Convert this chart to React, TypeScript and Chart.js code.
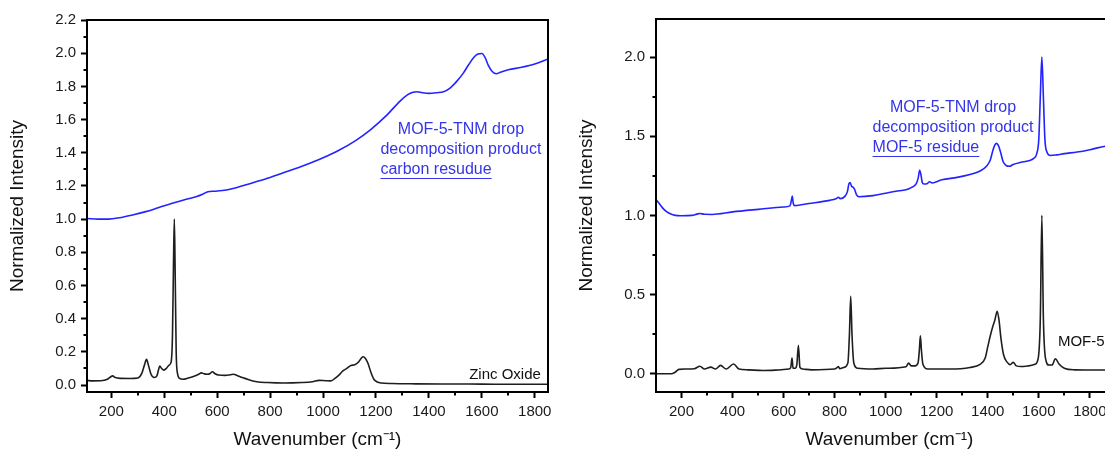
import React, { useEffect, useRef } from 'react';
import { Chart, registerables } from 'chart.js';

Chart.register(...registerables);

const FONT = '"Liberation Sans", Arial, Helvetica, sans-serif';

// ---------- Left panel data: [wavenumber, normalized intensity] ----------
const zincOxide: [number, number][] = [
  [108, 0.028], [130, 0.025], [160, 0.026], [185, 0.035], [198, 0.05], [205, 0.055], [215, 0.045],
  [235, 0.04], [270, 0.039], [300, 0.042], [315, 0.07], [325, 0.12], [333, 0.155], [340, 0.12],
  [350, 0.065], [362, 0.045], [372, 0.055], [378, 0.09], [383, 0.115], [390, 0.1], [398, 0.09],
  [408, 0.1], [418, 0.12], [426, 0.14], [431, 0.3], [435, 0.75], [438, 1.0], [441, 0.7],
  [445, 0.2], [450, 0.07], [458, 0.04], [470, 0.035], [490, 0.042], [515, 0.055], [530, 0.065],
  [540, 0.073], [550, 0.068], [560, 0.065], [572, 0.068], [582, 0.08], [592, 0.068], [605, 0.06],
  [630, 0.058], [650, 0.062], [662, 0.065], [675, 0.058], [695, 0.045], [720, 0.032], [750, 0.02],
  [790, 0.015], [850, 0.012], [920, 0.015], [960, 0.02], [985, 0.028], [1010, 0.026], [1030, 0.025],
  [1045, 0.04], [1060, 0.06], [1075, 0.085], [1090, 0.1], [1105, 0.118], [1120, 0.122], [1135, 0.14],
  [1145, 0.163], [1152, 0.17], [1160, 0.16], [1170, 0.13], [1180, 0.08], [1192, 0.035], [1205, 0.018],
  [1220, 0.012], [1260, 0.009], [1350, 0.007], [1450, 0.006], [1550, 0.006], [1650, 0.005],
  [1750, 0.005], [1850, 0.005],
];

const carbonResidue: [number, number][] = [
  [108, 1.004], [150, 1.0], [190, 1.0], [230, 1.008], [280, 1.025], [330, 1.045], [380, 1.07],
  [430, 1.095], [480, 1.118], [520, 1.135], [545, 1.15], [565, 1.165], [590, 1.168], [620, 1.172],
  [660, 1.184], [720, 1.212], [790, 1.246], [860, 1.285], [930, 1.325], [1000, 1.37], [1060, 1.415],
  [1120, 1.47], [1180, 1.54], [1240, 1.625], [1290, 1.71], [1320, 1.75], [1340, 1.765], [1355, 1.768],
  [1375, 1.762], [1400, 1.758], [1430, 1.762], [1455, 1.768], [1480, 1.79], [1505, 1.83], [1530, 1.88],
  [1550, 1.93], [1570, 1.975], [1585, 1.995], [1600, 1.998], [1612, 1.975], [1625, 1.925],
  [1640, 1.888], [1655, 1.876], [1670, 1.885], [1700, 1.9], [1750, 1.915], [1800, 1.935], [1850, 1.965],
];

// ---------- Right panel data ----------
const mof5: [number, number][] = [
  [100, 0.0], [160, 0.0], [175, 0.01], [190, 0.028], [215, 0.03], [250, 0.032], [272, 0.048],
  [290, 0.03], [315, 0.042], [333, 0.03], [353, 0.053], [375, 0.03], [404, 0.062], [425, 0.03],
  [460, 0.025], [520, 0.021], [580, 0.024], [620, 0.03], [628, 0.04], [633, 0.1], [637, 0.035],
  [645, 0.035], [652, 0.06], [658, 0.18], [664, 0.04], [675, 0.03], [710, 0.025], [800, 0.03],
  [810, 0.04], [815, 0.046], [820, 0.032], [835, 0.04], [852, 0.07], [858, 0.25], [863, 0.49],
  [868, 0.25], [875, 0.07], [890, 0.035], [950, 0.03], [1000, 0.035], [1080, 0.045], [1090, 0.067],
  [1100, 0.05], [1115, 0.05], [1127, 0.07], [1132, 0.15], [1136, 0.24], [1140, 0.15], [1146, 0.06],
  [1165, 0.03], [1250, 0.03], [1330, 0.04], [1370, 0.06], [1390, 0.1], [1400, 0.17], [1410, 0.24],
  [1420, 0.3], [1428, 0.34], [1437, 0.395], [1444, 0.34], [1452, 0.22], [1462, 0.12], [1475, 0.075],
  [1488, 0.058], [1500, 0.072], [1512, 0.05], [1530, 0.046], [1560, 0.05], [1585, 0.06], [1598, 0.1],
  [1606, 0.35], [1612, 1.0], [1618, 0.35], [1626, 0.1], [1640, 0.055], [1652, 0.055], [1665, 0.095],
  [1680, 0.06], [1700, 0.035], [1740, 0.025], [1800, 0.024], [1860, 0.024], [1930, 0.024],
];

const mof5Residue: [number, number][] = [
  [100, 1.1], [115, 1.07], [130, 1.04], [150, 1.015], [175, 1.0], [200, 0.998], [240, 1.0],
  [260, 1.008], [272, 1.012], [290, 1.007], [320, 1.006], [400, 1.022], [500, 1.038], [600, 1.053],
  [625, 1.06], [630, 1.09], [634, 1.122], [638, 1.075], [643, 1.062], [700, 1.075], [780, 1.095],
  [805, 1.105], [815, 1.115], [822, 1.106], [840, 1.12], [850, 1.15], [856, 1.2], [861, 1.208],
  [866, 1.185], [872, 1.178], [878, 1.165], [886, 1.13], [895, 1.118], [950, 1.125], [1000, 1.14],
  [1040, 1.152], [1080, 1.162], [1100, 1.175], [1120, 1.2], [1128, 1.24], [1133, 1.285], [1138, 1.26],
  [1143, 1.21], [1150, 1.198], [1162, 1.2], [1172, 1.212], [1182, 1.205], [1220, 1.225], [1280, 1.24],
  [1330, 1.258], [1370, 1.28], [1395, 1.31], [1410, 1.35], [1420, 1.41], [1428, 1.445], [1434, 1.455],
  [1442, 1.44], [1450, 1.4], [1460, 1.34], [1472, 1.315], [1485, 1.31], [1500, 1.322], [1530, 1.335],
  [1560, 1.345], [1580, 1.36], [1592, 1.39], [1600, 1.48], [1606, 1.75], [1612, 2.0], [1618, 1.75],
  [1624, 1.48], [1632, 1.4], [1645, 1.378], [1670, 1.382], [1700, 1.39], [1750, 1.4], [1800, 1.415],
  [1860, 1.437], [1930, 1.45],
];

// ---------- Ticks ----------
const leftXMajor = [200, 400, 600, 800, 1000, 1200, 1400, 1600, 1800];
const leftXMinor = [300, 500, 700, 900, 1100, 1300, 1500, 1700];
const leftYMajor = [0, 0.2, 0.4, 0.6, 0.8, 1.0, 1.2, 1.4, 1.6, 1.8, 2.0, 2.2];
const leftYMinor = [0.1, 0.3, 0.5, 0.7, 0.9, 1.1, 1.3, 1.5, 1.7, 1.9, 2.1];
const rightXMajor = [200, 400, 600, 800, 1000, 1200, 1400, 1600, 1800];
const rightXMinor = [300, 500, 700, 900, 1100, 1300, 1500, 1700, 1900];
const rightYMajor = [0, 0.5, 1.0, 1.5, 2.0];
const rightYMinor = [0.25, 0.75, 1.25, 1.75];

// ---------- Texts ----------
const xTitle = 'Wavenumber (cm\u207B\u00B9)';
const yTitle = 'Normalized Intensity';
const leftNote = ['MOF-5-TNM drop', 'decomposition product', 'carbon resudue'];
const rightNote = ['MOF-5-TNM drop', 'decomposition product', 'MOF-5 residue'];
const leftLabel = 'Zinc Oxide';
const rightLabel = 'MOF-5';

const BLUE = '#2323ff';
const NOTE_BLUE = '#3535e8';
const BLACK = '#1e1e1e';

type Spec = {
  xMin: number; xMax: number; yMin: number; yMax: number;
  xMajor: number[]; xMinor: number[]; yMajor: number[]; yMinor: number[];
  yAxisWidth: number; xAxisHeight: number;
  padding: { top: number; right: number; left: number; bottom: number };
  yTitlePad: number;
  black: [number, number][]; blue: [number, number][];
  note: string[]; noteX: number; noteY: number;
  label: string; labelX: number; labelY: number; labelAlign: CanvasTextAlign;
};

const leftSpec: Spec = {
  xMin: 108, xMax: 1850, yMin: -0.042, yMax: 2.2,
  xMajor: leftXMajor, xMinor: leftXMinor, yMajor: leftYMajor, yMinor: leftYMinor,
  yAxisWidth: 87, xAxisHeight: 64,
  padding: { top: 20, right: 12, left: 0, bottom: 0 },
  yTitlePad: 6,
  black: zincOxide, blue: carbonResidue,
  note: leftNote, noteX: 1521, noteY: 1.537,
  label: leftLabel, labelX: 1823, labelY: 0.06, labelAlign: 'right',
};

const rightSpec: Spec = {
  xMin: 100, xMax: 1930, yMin: -0.115, yMax: 2.24,
  xMajor: rightXMajor, xMinor: rightXMinor, yMajor: rightYMajor, yMinor: rightYMinor,
  yAxisWidth: 96, xAxisHeight: 64,
  padding: { top: 19, right: 37, left: 0, bottom: 0 },
  yTitlePad: 15,
  black: mof5, blue: mof5Residue,
  note: rightNote, noteX: 1264, noteY: 1.678,
  label: rightLabel, labelX: 1675, labelY: 0.2, labelAlign: 'left',
};

function decorPlugin(spec: Spec) {
  return {
    id: 'panelDecor',
    afterDraw(chart: any) {
      const { ctx, chartArea: a } = chart;
      const xs = chart.scales.x;
      const ys = chart.scales.y;
      ctx.save();
      // frame
      ctx.strokeStyle = '#000';
      ctx.lineWidth = 2;
      ctx.strokeRect(a.left, a.top, a.right - a.left, a.bottom - a.top);
      // minor ticks
      ctx.beginPath();
      spec.xMinor.forEach((v) => {
        const px = Math.round(xs.getPixelForValue(v));
        ctx.moveTo(px, a.bottom);
        ctx.lineTo(px, a.bottom + 3.5);
      });
      spec.yMinor.forEach((v) => {
        const py = Math.round(ys.getPixelForValue(v));
        ctx.moveTo(a.left, py);
        ctx.lineTo(a.left - 3.5, py);
      });
      ctx.stroke();
      // annotation
      ctx.font = `16px ${FONT}`;
      ctx.fillStyle = NOTE_BLUE;
      ctx.textBaseline = 'middle';
      ctx.textAlign = 'center';
      const cx = xs.getPixelForValue(spec.noteX);
      const cy = ys.getPixelForValue(spec.noteY);
      const gap = 20;
      ctx.fillText(spec.note[0], cx, cy);
      ctx.fillText(spec.note[1], cx, cy + gap);
      const w2 = ctx.measureText(spec.note[1]).width;
      const lx = cx - w2 / 2;
      ctx.textAlign = 'left';
      ctx.fillText(spec.note[2], lx, cy + 2 * gap);
      const w3 = ctx.measureText(spec.note[2]).width;
      ctx.strokeStyle = NOTE_BLUE;
      ctx.lineWidth = 1;
      ctx.beginPath();
      ctx.moveTo(lx, Math.round(cy + 2 * gap + 8) + 0.5);
      ctx.lineTo(lx + w3, Math.round(cy + 2 * gap + 8) + 0.5);
      ctx.stroke();
      // series label
      ctx.font = `15px ${FONT}`;
      ctx.fillStyle = '#111';
      ctx.textAlign = spec.labelAlign;
      ctx.fillText(spec.label, xs.getPixelForValue(spec.labelX), ys.getPixelForValue(spec.labelY));
      ctx.restore();
    },
  };
}

function buildConfig(spec: Spec): any {
  const toPts = (arr: [number, number][]) => arr.map(([x, y]) => ({ x, y }));
  const tickFont = { family: FONT, size: 15 };
  const titleFont = { family: FONT, size: 19 };
  return {
    type: 'line',
    data: {
      datasets: [
        {
          data: toPts(spec.blue),
          borderColor: BLUE,
          borderWidth: 1.6,
          pointRadius: 0,
          cubicInterpolationMode: 'monotone',
          fill: false,
        },
        {
          data: toPts(spec.black),
          borderColor: BLACK,
          borderWidth: 1.6,
          pointRadius: 0,
          cubicInterpolationMode: 'monotone',
          fill: false,
        },
      ],
    },
    options: {
      responsive: false,
      animation: false,
      events: [],
      layout: { padding: spec.padding },
      plugins: { legend: { display: false }, tooltip: { enabled: false }, title: { display: false } },
      scales: {
        x: {
          type: 'linear',
          min: spec.xMin,
          max: spec.xMax,
          afterBuildTicks: (s: any) => { s.ticks = spec.xMajor.map((v) => ({ value: v })); },
          afterFit: (s: any) => { s.height = spec.xAxisHeight; },
          ticks: {
            autoSkip: false,
            maxRotation: 0,
            padding: 5,
            color: '#1a1a1a',
            font: tickFont,
            callback: (v: number) => String(v),
          },
          grid: {
            drawOnChartArea: false,
            drawTicks: true,
            tickLength: 6,
            tickWidth: 2,
            tickColor: '#000',
            color: '#000',
          },
          border: { display: false },
          title: {
            display: true,
            text: xTitle,
            color: '#111',
            font: titleFont,
            padding: { top: 0, bottom: 5 },
          },
        },
        y: {
          type: 'linear',
          min: spec.yMin,
          max: spec.yMax,
          afterBuildTicks: (s: any) => { s.ticks = spec.yMajor.map((v) => ({ value: v })); },
          afterFit: (s: any) => { s.width = spec.yAxisWidth; },
          ticks: {
            autoSkip: false,
            padding: 5,
            color: '#1a1a1a',
            font: tickFont,
            callback: (v: number) => Number(v).toFixed(1),
          },
          grid: {
            drawOnChartArea: false,
            drawTicks: true,
            tickLength: 6,
            tickWidth: 2,
            tickColor: '#000',
            color: '#000',
          },
          border: { display: false },
          title: {
            display: true,
            text: yTitle,
            color: '#111',
            font: titleFont,
            padding: { top: spec.yTitlePad, bottom: 0 },
          },
        },
      },
    },
    plugins: [decorPlugin(spec)],
  };
}

function Panel({ spec, left, width }: { spec: Spec; left: number; width: number }) {
  const ref = useRef<HTMLCanvasElement | null>(null);
  useEffect(() => {
    if (!ref.current) return;
    const chart = new Chart(ref.current, buildConfig(spec));
    return () => chart.destroy();
  }, [spec]);
  return (
    <canvas
      ref={ref}
      width={width}
      height={456}
      style={{ position: 'absolute', left, top: 0, width, height: 456 }}
    />
  );
}

export default function App() {
  return (
    <div
      style={{
        position: 'fixed',
        left: 0,
        top: 0,
        width: 1105,
        height: 456,
        overflow: 'hidden',
        background: '#fff',
      }}
    >
      <Panel spec={leftSpec} left={0} width={560} />
      <Panel spec={rightSpec} left={560} width={600} />
    </div>
  );
}
